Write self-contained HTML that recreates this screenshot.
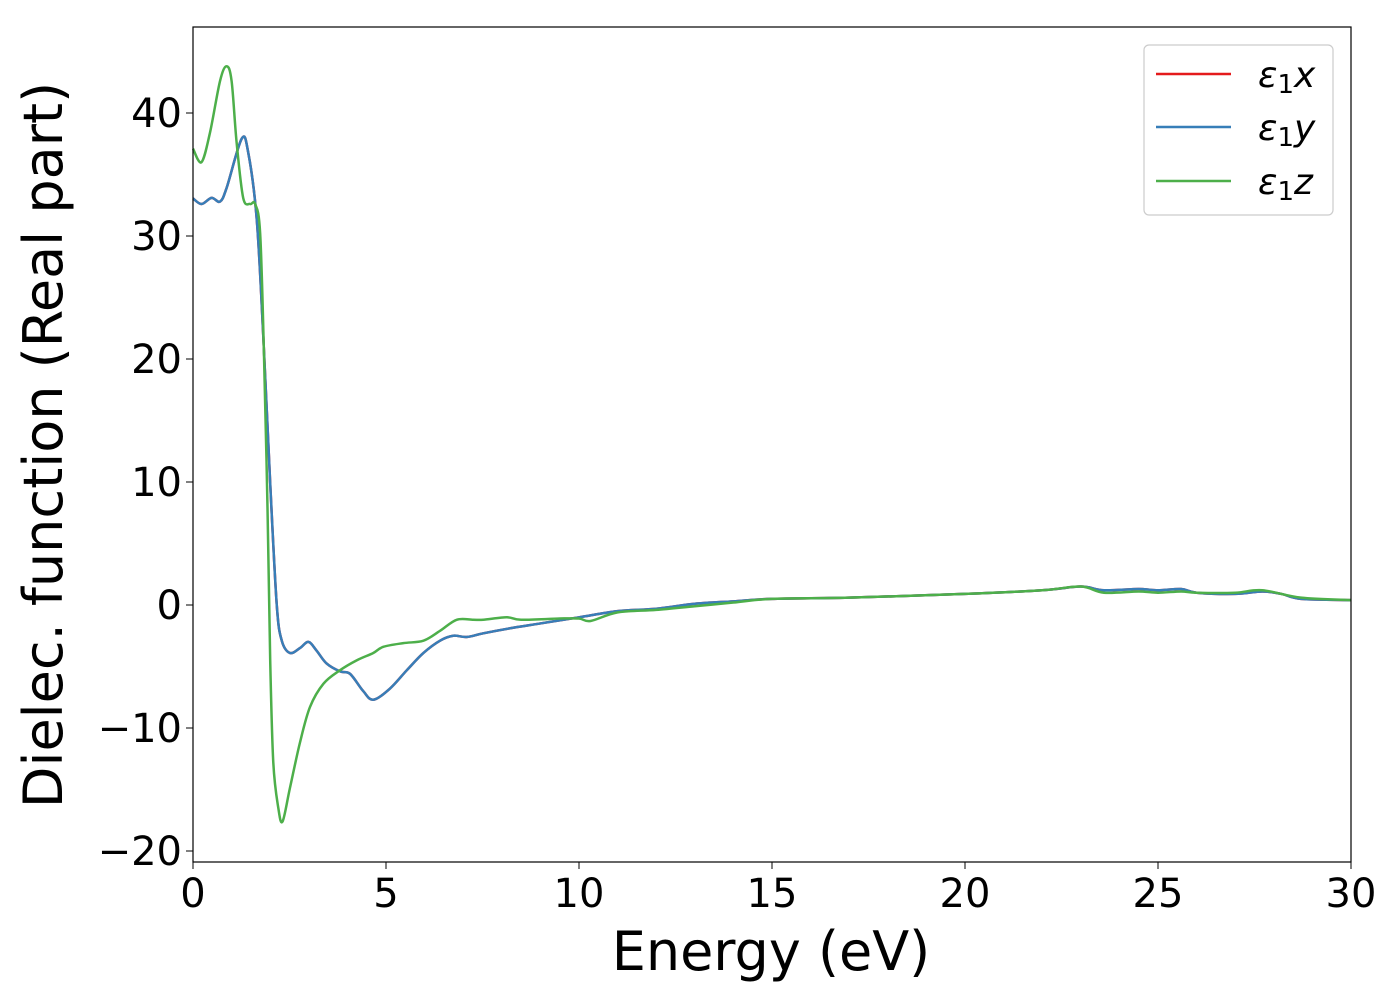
<!DOCTYPE html>
<html><head><meta charset="utf-8"><style>
body{margin:0;background:#fff}
svg text{font-family:"DejaVu Sans","Liberation Sans",sans-serif;fill:#000}
</style></head><body>
<svg width="1400" height="1000">
<g id="grid"></g>
<g id="series"></g>
<rect x="193" y="27" width="1158" height="835" fill="none" stroke="#000" stroke-width="1.2"/>
<g id="ticks"></g>
<text x="771" y="970" font-size="54" text-anchor="middle">Energy (eV)</text>
<text transform="translate(62,445) rotate(-90)" font-size="54" text-anchor="middle">Dielec. function (Real part)</text>
<g>
<rect x="1144" y="45" width="189" height="170" rx="5" fill="#fff" stroke="#ccc" stroke-width="1.2"/>
<line x1="1156" y1="74" x2="1231" y2="74" stroke="#e41a1c" stroke-width="2.5"/>
<text x="1258" y="87" font-size="36" font-style="italic">ε<tspan font-style="normal" font-size="26" dy="6">1</tspan><tspan dy="-6">x</tspan></text>
<line x1="1156" y1="127" x2="1231" y2="127" stroke="#377eb8" stroke-width="2.5"/>
<text x="1258" y="140" font-size="36" font-style="italic">ε<tspan font-style="normal" font-size="26" dy="6">1</tspan><tspan dy="-6">y</tspan></text>
<line x1="1156" y1="181" x2="1231" y2="181" stroke="#4daf4a" stroke-width="2.5"/>
<text x="1258" y="194" font-size="36" font-style="italic">ε<tspan font-style="normal" font-size="26" dy="6">1</tspan><tspan dy="-6">z</tspan></text>
</g>
</svg>
<script>
const xTicks=[0,5,10,15,20,25,30];
const yTicks=[-20,-10,0,10,20,30,40];
const yTickLabels=["−20","−10","0","10","20","30","40"];
const energyXY=[0,0.22,0.48,0.7,0.87,1.26,1.43,1.65,1.82,2.0,2.17,2.3,2.51,2.77,2.99,3.2,3.46,3.81,4.07,4.41,4.67,5.1,5.54,5.97,6.4,6.74,7.09,7.52,8.2,9,10,11,12,13,14,15,17,20,22,23,23.6,24.5,25,25.6,26,27,27.7,28.2,28.7,30];
const eps1x=[33.06,32.6,33.1,32.8,33.9,37.9,36.8,31.4,21.9,9.9,0,-2.9,-3.9,-3.5,-3.0,-3.7,-4.75,-5.4,-5.6,-7.0,-7.7,-6.8,-5.3,-3.9,-2.9,-2.5,-2.6,-2.3,-1.9,-1.5,-1.0,-0.5,-0.3,0.1,0.3,0.5,0.6,0.9,1.2,1.5,1.2,1.3,1.2,1.3,1.0,0.9,1.1,0.9,0.5,0.4];
const eps1y=eps1x.slice();
const energyZ=[0,0.22,0.44,0.7,0.87,1.0,1.13,1.3,1.48,1.61,1.74,1.84,1.93,2.0,2.08,2.21,2.32,2.51,2.77,3.03,3.38,3.81,4.24,4.67,4.93,5.45,5.97,6.4,6.83,7.26,7.52,8.13,8.5,9.5,10,10.3,11,12,13,14,15,17,20,22,23,23.6,24.5,25,25.6,26,27,27.7,28.7,30];
const eps1z=[37.1,36.0,38.4,42.6,43.8,42.6,37.6,33.1,32.6,32.6,30.2,20.2,7.9,-4.5,-12.8,-16.5,-17.6,-14.9,-11.2,-8.3,-6.4,-5.3,-4.5,-3.9,-3.4,-3.1,-2.9,-2.1,-1.2,-1.2,-1.2,-1.0,-1.2,-1.1,-1.1,-1.3,-0.6,-0.4,-0.1,0.2,0.5,0.6,0.9,1.2,1.5,1.0,1.1,1.0,1.1,1.0,1.0,1.2,0.6,0.4];
const X=e=>193+e*(1158/30);
const Y=v=>605-v*12.3;
const NS="http://www.w3.org/2000/svg";
const tg=document.getElementById('ticks');
xTicks.forEach(t=>{
 const l=document.createElementNS(NS,'line');
 l.setAttribute('x1',X(t));l.setAttribute('x2',X(t));l.setAttribute('y1',862);l.setAttribute('y2',869);l.setAttribute('stroke','#000');
 
 
 tg.appendChild(l);
 const s=document.createElementNS(NS,'text');
 s.setAttribute('x',X(t));s.setAttribute('y',907);s.setAttribute('font-size','40');s.setAttribute('text-anchor','middle');
 s.textContent=t;
 
 
 tg.appendChild(s);
});
yTicks.forEach((t,i)=>{
 const l=document.createElementNS(NS,'line');
 l.setAttribute('x1',186);l.setAttribute('x2',193);l.setAttribute('y1',Y(t));l.setAttribute('y2',Y(t));l.setAttribute('stroke','#000');
 
 
 tg.appendChild(l);
 const s=document.createElementNS(NS,'text');
 s.setAttribute('x',182);s.setAttribute('y',Y(t)+14);s.setAttribute('font-size','40');s.setAttribute('text-anchor','end');
 s.textContent=yTickLabels[i];
 
 
 tg.appendChild(s);
});
function smooth(xs,ys){
 const p=xs.map((e,i)=>[X(e),Y(ys[i])]);
 let d='M'+p[0][0]+','+p[0][1];
 for(let i=0;i<p.length-1;i++){
  const p0=p[i-1]||p[i],p1=p[i],p2=p[i+1],p3=p[i+2]||p2;
  const c1=[p1[0]+(p2[0]-p0[0])/6,p1[1]+(p2[1]-p0[1])/6];
  const c2=[p2[0]-(p3[0]-p1[0])/6,p2[1]-(p3[1]-p1[1])/6];
  d+=` C${c1[0]},${c1[1]} ${c2[0]},${c2[1]} ${p2[0]},${p2[1]}`;
 }
 return d;
}
const sg=document.getElementById('series');
[[energyXY,eps1x,'#e41a1c','series-eps1x'],[energyXY,eps1y,'#377eb8','series-eps1y'],[energyZ,eps1z,'#4daf4a','series-eps1z']].forEach(s=>{
 const p=document.createElementNS(NS,'path');
 p.setAttribute('d',smooth(s[0],s[1]));p.setAttribute('fill','none');p.setAttribute('stroke',s[2]);p.setAttribute('stroke-width','2.5');p.setAttribute('stroke-linejoin','round');
 
 
 sg.appendChild(p);
});
</script>
</body></html>
